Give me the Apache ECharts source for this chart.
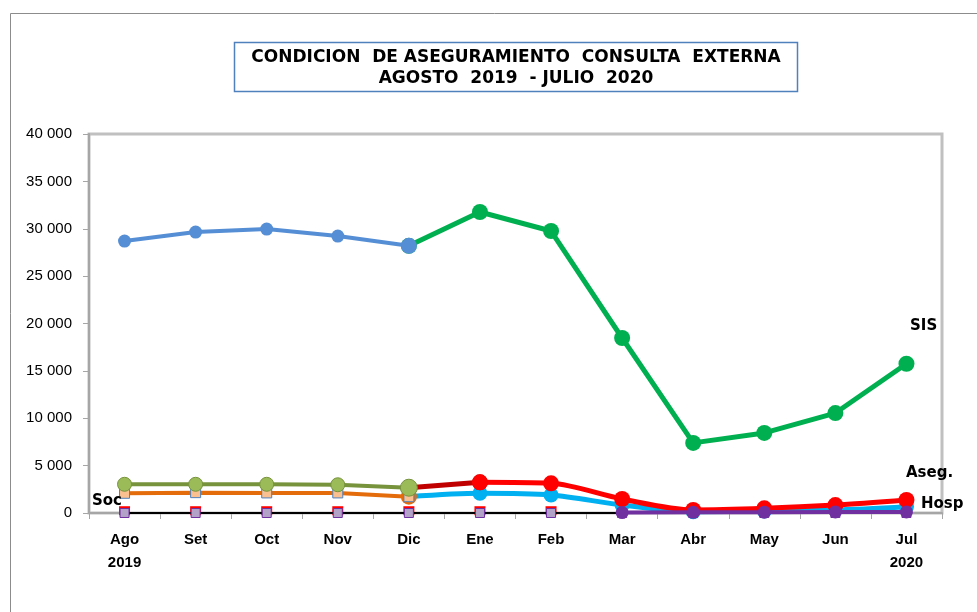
<!DOCTYPE html>
<html>
<head>
<meta charset="utf-8">
<script src="https://cdn.jsdelivr.net/npm/echarts@6/dist/echarts.min.js"></script>
<style>
  html, body { margin: 0; padding: 0; background: #fff; }
  #chart { width: 977px; height: 612px; }
</style>
</head>
<body>
<div id="chart"></div>
<script>
// meses (eje x)
const months = ['Ago\n2019', 'Set', 'Oct', 'Nov', 'Dic', 'Ene', 'Feb', 'Mar', 'Abr', 'May', 'Jun', 'Jul\n2020'];
const yTicks = [0, 5000, 10000, 15000, 20000, 25000, 30000, 35000, 40000];

// SIS: tramo azul (Ago-Dic) y tramo verde (Dic-Jul)
const sisBefore = [28700, 29650, 29970, 29230, 28200, null, null, null, null, null, null, null];
const sisAfter = [null, null, null, null, 28200, 31770, 29760, 18470, 7400, 8450, 10550, 15750];

// Asegurados: olivo (Ago-Dic), rojo oscuro (Dic-Ene), rojo (Ene-Jul)
const asegBefore = [3030, 3030, 3030, 2980, 2670, null, null, null, null, null, null, null];
const asegLink = [null, null, null, null, 2670, 3240, null, null, null, null, null, null];
const asegAfter = [null, null, null, null, null, 3240, 3130, 1480, 320, 490, 840, 1370];

// otro grupo: naranja (Ago-Dic) y celeste (Dic-Jul)
const otroBefore = [2080, 2150, 2120, 2120, 1720, null, null, null, null, null, null, null];
const otroAfter = [null, null, null, null, 1720, 2080, 1900, 840, 140, 210, 320, 670];

// Soc y Hosp casi en cero
const soc = [0, 0, 0, 0, 0, 0, 0, 0, 0, 0, 0, 0];
const socRed = [30, 30, 30, 30, 30, 30, 30, null, null, null, null, null];
const hosp = [null, null, null, null, null, null, null, 40, 70, 90, 110, 110];

const chart = echarts.init(document.getElementById('chart'));

// el punto de Dic se pinta con el color del tramo anterior
const dicIdx = 4;
const markDic = (arr, style) => arr.map((v, i) => i === dicIdx && v != null ? { value: v, ...style } : v);

chart.setOption({
  animation: false,
  grid: { left: 89, right: 35, top: 134, bottom: 99, show: true, borderColor: '#c0c0c0', borderWidth: 3 },
  xAxis: {
    type: 'category',
    data: months,
    boundaryGap: true,
    axisLine: { lineStyle: { color: '#a6a6a6', width: 2 } },
    axisTick: { show: true, length: 6, lineStyle: { color: '#a6a6a6' } },
    axisLabel: { color: '#000', fontFamily: 'Liberation Sans', fontWeight: 'bold', fontSize: 15, lineHeight: 23, margin: 15 }
  },
  yAxis: {
    type: 'value',
    min: 0, max: 40000, interval: 5000,
    axisLine: { show: true, lineStyle: { color: '#a6a6a6', width: 2 } },
    axisTick: { show: true, length: 6, lineStyle: { color: '#a6a6a6' } },
    splitLine: { show: false },
    axisLabel: {
      color: '#000', fontFamily: 'Liberation Sans', fontSize: 15, margin: 17,
      formatter: v => v === 0 ? '0' : String(v).replace(/(\d)(?=(\d{3})+$)/, '$1 ')
    }
  },
  series: [
    { type: 'line', data: otroBefore, z: 4, lineStyle: { color: '#e46c0a', width: 4 }, symbol: 'rect', symbolSize: 10,
      itemStyle: { color: '#fac090', borderColor: '#4f81bd', borderWidth: 1 } },
    { type: 'line', data: markDic(otroAfter, { itemStyle: { color: '#e46c0a' }, symbolSize: 16 }), smooth: 0.3, z: 3,
      lineStyle: { color: '#00b0f0', width: 5 }, symbol: 'circle', symbolSize: 15, itemStyle: { color: '#00b0f0' } },
    { type: 'line', data: markDic(asegBefore, { symbolSize: 17 }), z: 6, lineStyle: { color: '#77933c', width: 4 },
      symbol: 'circle', symbolSize: 14, itemStyle: { color: '#9bbb59', borderColor: '#77933c', borderWidth: 1 } },
    { type: 'line', data: markDic(asegLink, { symbolSize: 0 }), smooth: 0.3, z: 5, lineStyle: { color: '#c00000', width: 5 },
      symbol: 'circle', symbolSize: 16, itemStyle: { color: '#c00000' } },
    { type: 'line', data: asegAfter, smooth: 0.3, z: 5, lineStyle: { color: '#ff0000', width: 5 }, symbol: 'circle', symbolSize: 16,
      itemStyle: { color: '#ff0000' } },
    { type: 'line', data: sisAfter, z: 7, lineStyle: { color: '#00b050', width: 5 }, symbol: 'circle', symbolSize: 16,
      itemStyle: { color: '#00b050' } },
    { type: 'line', data: markDic(sisBefore, { symbolSize: 16 }), z: 8, lineStyle: { color: '#558ed5', width: 4 },
      symbol: 'circle', symbolSize: 13, itemStyle: { color: '#558ed5' } },
    { type: 'line', data: hosp, z: 11, lineStyle: { color: '#7030a0', width: 4 }, symbol: 'circle', symbolSize: 13,
      itemStyle: { color: '#7030a0' } },
    { type: 'line', data: socRed, z: 9, lineStyle: { width: 0 }, symbol: 'rect', symbolSize: [11, 9], symbolOffset: [0, -2],
      itemStyle: { color: '#ff0000' } },
    { type: 'line', data: soc, z: 10, lineStyle: { color: '#000', width: 2 }, symbol: 'rect', symbolSize: 9,
      itemStyle: { color: '#b3a2c7', borderColor: '#7030a0', borderWidth: 1 } }
  ],
  graphic: [
    { type: 'rect', z: -10, silent: true,
      shape: { x: 10.5, y: 13.5, width: 1000, height: 650 }, style: { fill: null, stroke: '#8c8c8c', lineWidth: 1 } },
    { type: 'rect', z: 20,
      shape: { x: 234.5, y: 42.5, width: 563, height: 49 }, style: { fill: '#fff', stroke: '#4f81bd', lineWidth: 1.5 } },
    { type: 'text', x: 516, y: 47, z: 21,
      style: { text: 'CONDICION  DE ASEGURAMIENTO  CONSULTA  EXTERNA\nAGOSTO  2019  - JULIO  2020',
        font: 'bold 17px "DejaVu Sans"', fill: '#000', align: 'center', lineHeight: 21 } },
    { type: 'text', x: 910, y: 319, z: 21, style: { text: 'SIS', font: 'bold 15px "DejaVu Sans"', fill: '#000' } },
    { type: 'text', x: 906, y: 466, z: 21, style: { text: 'Aseg.', font: 'bold 15px "DejaVu Sans"', fill: '#000' } },
    { type: 'text', x: 921, y: 497, z: 21, style: { text: 'Hosp', font: 'bold 15px "DejaVu Sans"', fill: '#000' } },
    { type: 'text', x: 92, y: 494, z: 21, style: { text: 'Soc', font: 'bold 15px "DejaVu Sans"', fill: '#000' } }
  ]
});
</script>
</body>
</html>
